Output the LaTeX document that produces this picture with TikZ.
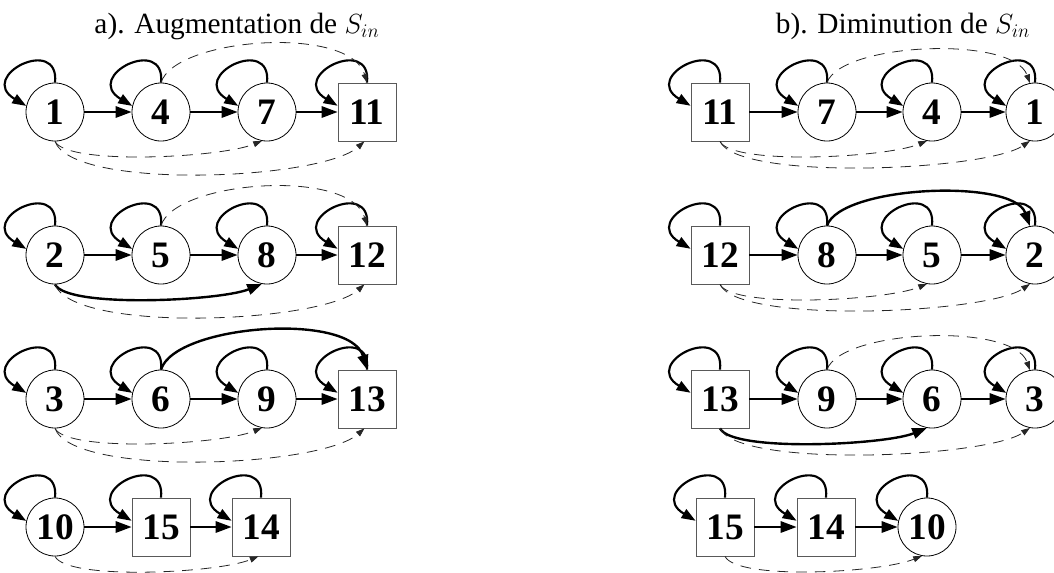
\documentclass[tikz,border=0pt]{standalone}
\usepackage{fontspec}
\setmainfont{Liberation Serif}
\usetikzlibrary{arrows.meta}
\newcommand\sloop[1]{\draw[selfl] (#1.north) .. controls +(5,-48) and +(-50,-30) .. (#1.168);}
\newcommand\arcnear[3][dasharc]{\draw[#1] (#2.south) .. controls +(12,24) and +(-42,17) .. (#3);}
\newcommand\arcfar[3][dasharc]{\draw[#1] (#2.south) .. controls +(18,49) and +(-44,39) .. (#3);}
\newcommand\arcmid[3][dasharc]{\draw[#1] (#2.south) .. controls +(18,40) and +(-44,30) .. (#3);}
\newcommand\arctop[3][dasharc]{\draw[#1] (#2.north) .. controls +(14,-45) and +(-17,-58) .. (#3);}
\newcommand\arctopr[3][dasharc]{\draw[#1] (#2.north) .. controls +(14,-40) and +(-17,-48) .. (#3);}
\begin{document}
\begin{tikzpicture}[x=0.75pt,y=-0.75pt,
 numfont/.style={font=\fontsize{28}{28}\selectfont\bfseries},
 cnode/.style={draw, circle, line width=0.6pt, minimum size=43.5pt, inner sep=0pt, numfont},
 bnode/.style={draw=black!65, rectangle, line width=0.6pt, minimum size=43.5pt, inner sep=0pt, numfont},
 harrow/.style={line width=1.6pt, -{Triangle[length=12pt,width=8.5pt]}},
 selfl/.style={line width=1.6pt, -{Triangle[length=10.5pt,width=7.5pt]}},
 dasharc/.style={line width=0.6pt, draw=black!85, dash pattern=on 8pt off 6pt, -{Triangle[length=6.5pt,width=4.5pt]}},
 solidarc/.style={line width=1.8pt, -{Triangle[length=11pt,width=8pt]}},
 ttl/.style={font=\fontsize{22}{26}\selectfont, anchor=base, inner sep=0pt}]
\useasboundingbox (0,0) rectangle (1054,572);

% titles
\node[ttl] (ta) at (237,33) {a). Augmentation de $S_{in}$};
\node[ttl] (tb) at (903,33) {b). Diminution de $S_{in}$};

% ---------- left panel ----------
\node[cnode] (a1) at (55,112) {1};
\node[cnode] (a4) at (161,112) {4};
\node[cnode] (a7) at (267,112) {7};
\node[bnode] (a11) at (367,112) {11};

\node[cnode] (a2) at (55,255) {2};
\node[cnode] (a5) at (161,255) {5};
\node[cnode] (a8) at (267,255) {8};
\node[bnode] (a12) at (367,255) {12};

\node[cnode] (a3) at (55,399) {3};
\node[cnode] (a6) at (161,399) {6};
\node[cnode] (a9) at (267,399) {9};
\node[bnode] (a13) at (367,399) {13};

\node[cnode] (a10) at (55,527) {10};
\node[bnode] (a15) at (161,527) {15};
\node[bnode] (a14) at (261,527) {14};

\foreach \n in {a1,a4,a7,a11,a2,a5,a8,a12,a3,a6,a9,a13,a10,a15,a14} {\sloop{\n}}

\draw[harrow] (a1) -- (a4);
\draw[harrow] (a4) -- (a7);
\draw[harrow] (a7) -- (a11);
\draw[harrow] (a2) -- (a5);
\draw[harrow] (a5) -- (a8);
\draw[harrow] (a8) -- (a12);
\draw[harrow] (a3) -- (a6);
\draw[harrow] (a6) -- (a9);
\draw[harrow] (a9) -- (a13);
\draw[harrow] (a10) -- (a15);
\draw[harrow] (a15) -- (a14);

\arctop{a4}{a11.north}
\arcnear{a1}{a7.-100}
\arcfar{a1}{a11.-95}

\arctop{a5}{a12.north}
\arcnear[solidarc]{a2}{a8.-100}
\arcfar{a2}{a12.-95}

\arctop[solidarc]{a6}{a13.north}
\arcnear{a3}{a9.-100}
\arcfar{a3}{a13.-95}

\arcnear{a10}{a14.-95}

% ---------- right panel ----------
\node[bnode] (b11) at (720,112) {11};
\node[cnode] (b7) at (827,112) {7};
\node[cnode] (b4) at (932,112) {4};
\node[cnode] (b1) at (1035,112) {1};

\node[bnode] (b12) at (720,255) {12};
\node[cnode] (b8) at (827,255) {8};
\node[cnode] (b5) at (932,255) {5};
\node[cnode] (b2) at (1035,255) {2};

\node[bnode] (b13) at (720,399) {13};
\node[cnode] (b9) at (827,399) {9};
\node[cnode] (b6) at (932,399) {6};
\node[cnode] (b3) at (1035,399) {3};

\node[bnode] (b15) at (725,527) {15};
\node[bnode] (b14) at (826,527) {14};
\node[cnode] (b10) at (927,527) {10};

\foreach \n in {b11,b7,b4,b1,b12,b8,b5,b2,b13,b9,b6,b3,b15,b14,b10} {\sloop{\n}}

\draw[harrow] (b11) -- (b7);
\draw[harrow] (b7) -- (b4);
\draw[harrow] (b4) -- (b1);
\draw[harrow] (b12) -- (b8);
\draw[harrow] (b8) -- (b5);
\draw[harrow] (b5) -- (b2);
\draw[harrow] (b13) -- (b9);
\draw[harrow] (b9) -- (b6);
\draw[harrow] (b6) -- (b3);
\draw[harrow] (b15) -- (b14);
\draw[harrow] (b14) -- (b10);

\arctopr{b7}{b1.100}
\arcnear{b11}{b4.-100}
\arcmid{b11}{b1.-100}

\arctopr[solidarc]{b8}{b2.100}
\arcnear{b12}{b5.-100}
\arcmid{b12}{b2.-100}

\arctopr{b9}{b3.100}
\arcnear[solidarc]{b13}{b6.-100}
\arcmid{b13}{b3.-100}

\arcnear{b15}{b10.-100}
\end{tikzpicture}
\end{document}
